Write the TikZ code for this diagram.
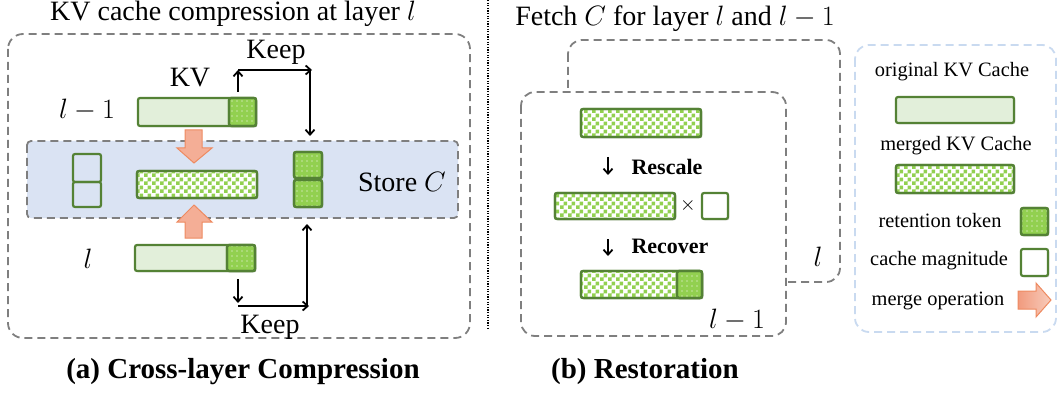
\RequirePackage{fix-cm}
\documentclass[tikz,border=0pt]{standalone}
\usepackage{fontspec}
\setmainfont{Liberation Serif}
\usetikzlibrary{patterns,shadows,arrows.meta}
\definecolor{dgreen}{HTML}{548235}
\definecolor{lgreen}{HTML}{E2EFDA}
\definecolor{mgreen}{HTML}{92D050}
\definecolor{bandblue}{HTML}{DAE3F3}
\definecolor{boxgray}{HTML}{7F7F7F}
\definecolor{legblue}{HTML}{C9DAF0}
\definecolor{ofill}{HTML}{F4AE96}
\definecolor{oline}{HTML}{EE8A60}
\definecolor{oleft}{HTML}{F19B7E}
\definecolor{oright}{HTML}{F8CCBC}
\pgfdeclarepatternformonly{kvchecker}{\pgfpointorigin}{\pgfqpoint{8pt}{8pt}}{\pgfqpoint{8pt}{8pt}}{%
  \pgfpathrectangle{\pgfpointorigin}{\pgfqpoint{4pt}{4pt}}%
  \pgfpathrectangle{\pgfqpoint{4pt}{4pt}}{\pgfqpoint{4pt}{4pt}}%
  \pgfusepath{fill}}
\pgfdeclarepatternformonly{kvdots}{\pgfqpoint{-1pt}{-1pt}}{\pgfqpoint{5pt}{5pt}}{\pgfqpoint{5pt}{5pt}}{%
  \pgfpathcircle{\pgfqpoint{2pt}{2pt}}{0.6pt}\pgfusepath{fill}}
\begin{document}
\begin{tikzpicture}[x=1pt,y=-1pt,
  dashbox/.style={draw=boxgray, line width=1.8pt, dash pattern=on 8pt off 5pt, rounded corners=15pt},
  bar/.style={draw=dgreen, line width=2.2pt, rounded corners=2pt, inner sep=0pt, outer sep=0pt, anchor=north west,
    drop shadow={shadow xshift=1.3pt, shadow yshift=-1.3pt, opacity=0.25}},
  sz/.style 2 args={minimum width=#1pt, minimum height=#2pt},
  origbar/.style={bar, fill=lgreen},
  mergedbar/.style={bar, fill=white, postaction={pattern=kvchecker, pattern color=mgreen},
    postaction={draw=dgreen, line width=2.2pt}},
  token/.style={bar, fill=mgreen, postaction={pattern=kvdots, pattern color=white},
    postaction={draw=dgreen, line width=2.2pt}},
  magbox/.style={bar, fill=white},
  magbare/.style={draw=dgreen, line width=2.2pt, rounded corners=2pt, inner sep=0pt, outer sep=0pt, anchor=north west},
  arr/.style={line width=1.8pt, -{Straight Barb[length=5pt,width=9pt]}},
  merge/.style={fill=ofill, draw=oline, line width=1pt},
  ttl/.style={font=\fontsize{28}{33}\selectfont, anchor=base},
  lbl/.style={font=\fontsize{28}{33}\selectfont, anchor=base},
  captxt/.style={font=\fontsize{29}{34}\selectfont\bfseries, anchor=base},
  optxt/.style={font=\fontsize{22}{26}\selectfont\bfseries, anchor=base},
  leg/.style={font=\fontsize{20.4}{24}\selectfont, anchor=base}]
\useasboundingbox (0,0) rectangle (1058,393);

% ---------------- (a) ----------------
\node[ttl] (ta) at (233,20.5) {KV cache compression at layer $l$};
\draw[dashbox] (8,34) rectangle (470,338);
\draw[fill=bandblue, draw=boxgray, line width=1.8pt, dash pattern=on 8pt off 5pt, rounded corners=4pt] (27,141) rectangle (458,218);

\node[lbl] (kv) at (190,87) {KV};
\node[lbl] (lm1) at (87,119) {$l-1$};
\node[lbl] (la) at (88,268) {$l$};
\node[lbl] (store) at (402,191) {Store $C$};
\node[lbl] (keep1) at (276,59) {Keep};
\node[lbl] (keep2) at (270,333) {Keep};

\node[origbar, sz={118}{28}] (b1) at (138,98) {};
\node[token, sz={27}{28}] (t1) at (229,98) {};
\node[mergedbar, sz={120}{27}] (m1) at (137,171) {};
\node[origbar, sz={120}{26}] (b2) at (135,245) {};
\node[token, sz={28}{26}] (t2) at (227,245) {};
\node[magbare, sz={28}{28}] (s1) at (73,154) {};
\node[magbare, sz={28}{25}] (s2) at (73,182) {};
\node[token, sz={28}{26}] (r1) at (294,152) {};
\node[token, sz={28}{27}] (r2) at (294,180) {};

% merge arrows
\draw[merge] (185,130) -- (202,130) -- (202,148) -- (212,148) -- (194,163) -- (177,148) -- (185,148) -- cycle;
\draw[merge] (185,238) -- (202,238) -- (202,222) -- (212,222) -- (194,205) -- (177,222) -- (185,222) -- cycle;

% keep arrows
\coordinate (u0) at (238,92);
\coordinate (u1) at (238,70);
\coordinate (u2) at (312,70);
\coordinate (u3) at (310,70);
\coordinate (u4) at (310,136);
\draw[arr] (u0) -- (u1);
\draw[arr] (u1) -- (u2);
\draw[arr] (u3) -- (u4);
\coordinate (d0) at (238,279);
\coordinate (d1) at (238,303);
\coordinate (d2) at (238,306);
\coordinate (d3) at (309,306);
\coordinate (d4) at (307,307);
\coordinate (d5) at (307,224);
\draw[arr] (d0) -- (d1);
\draw[arr] (d2) -- (d3);
\draw[arr] (d4) -- (d5);

\node[captxt] (capa) at (243,378) {(a) Cross-layer Compression};

% divider
\draw[line width=1.2pt, dash pattern=on 1.3pt off 1.3pt] (488,0) -- (488,330);

% ---------------- (b) ----------------
\node[ttl] (tb) at (675,25.5) {Fetch $C$ for layer $l$ and $l-1$};
\draw[dashbox, rounded corners=14pt] (568,40) rectangle (840,282);
\draw[dashbox, rounded corners=14pt, fill=white] (521,92) rectangle (786,336);
\node[lbl] (lb) at (818,266) {$l$};
\node[lbl] (lbm1) at (737,328) {$l-1$};

\node[mergedbar, sz={120}{28}] (m2) at (581,109) {};
\coordinate (a1) at (608,157);
\coordinate (a2) at (608,175);
\draw[arr] (a1) -- (a2);
\node[optxt] (resc) at (667,175) {Rescale};
\node[mergedbar, sz={120}{26}] (m3) at (555,193) {};
\node[font=\fontsize{20}{24}\selectfont] (times) at (688,205) {$\times$};
\node[magbox, sz={26}{26}] (mag) at (702,193) {};
\coordinate (a3) at (608,239);
\coordinate (a4) at (608,256);
\draw[arr] (a3) -- (a4);
\node[optxt] (reco) at (670,253) {Recover};
\node[mergedbar, sz={121}{27}] (m4) at (581,271) {};
\node[token, sz={25}{27}] (t4) at (677,271) {};

\node[captxt] (capb) at (645,378) {(b) Restoration};

% ---------------- legend ----------------
\draw[draw=legblue, line width=1.8pt, dash pattern=on 8pt off 5pt, rounded corners=14pt] (855,45) rectangle (1056,332);
\node[leg] (l1) at (952,77) {original KV Cache};
\node[origbar, sz={118}{26}] (lg1) at (896,97) {};
\node[leg] (l2) at (956,150) {merged KV Cache};
\node[mergedbar, sz={118}{28}] (lg2) at (896,165) {};
\node[leg] (l3) at (940,227) {retention token};
\node[token, sz={27}{27}] (lg3) at (1021,208) {};
\node[leg] (l4) at (939,265) {cache magnitude};
\node[magbox, sz={27}{27}] (lg4) at (1021,249) {};
\node[leg] (l5) at (938,305) {merge operation};
\draw[draw=oline, line width=1pt, left color=oleft, right color=oright] (1018,291) -- (1036,291) -- (1036,283) -- (1051,300) -- (1036,317) -- (1036,309) -- (1018,309) -- cycle;
\end{tikzpicture}
\end{document}
